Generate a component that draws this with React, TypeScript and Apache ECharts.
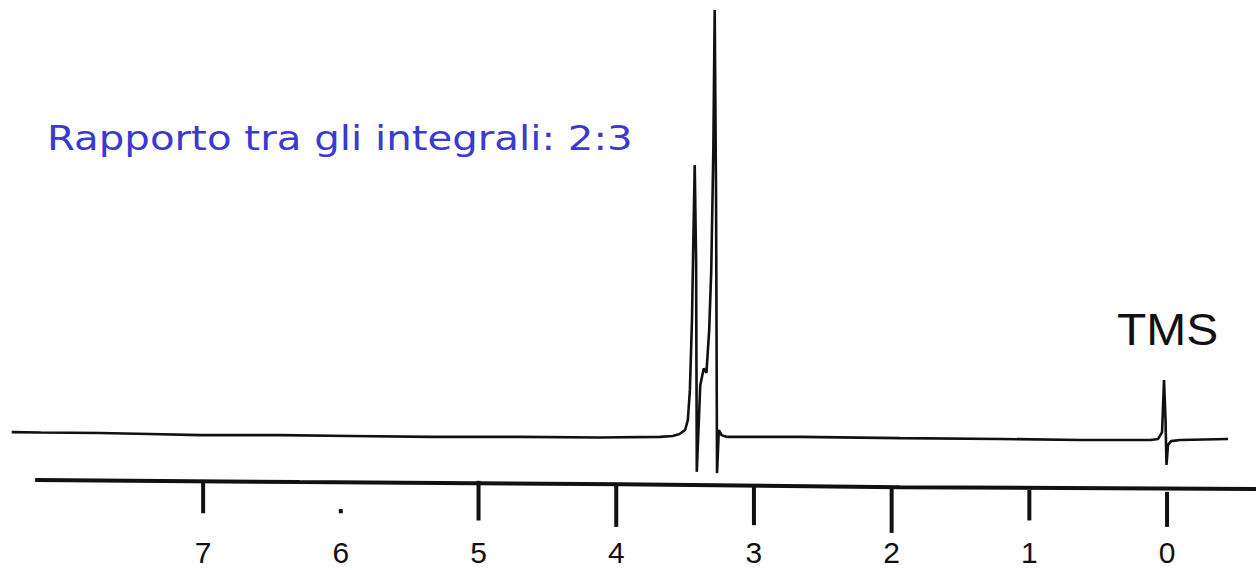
import React, { useEffect, useRef } from "react";
import * as echarts from "echarts";

// Spectrum trace (chemical shift in ppm, relative intensity)
const spectrumPpm = [
  8.39, 8.18, 7.75, 7.39, 7.02, 6.44, 5.93, 5.34, 4.7, 4.12, 3.68, 3.59, 3.54, 3.5, 3.48,
  3.465, 3.45, 3.44, 3.43, 3.42, 3.415, 3.4, 3.39, 3.365, 3.345, 3.325, 3.31, 3.295, 3.285,
  3.275, 3.268, 3.255, 3.235, 3.2, 2.67, 1.94, 1.21, 0.63, 0.12, 0.065, 0.036, 0.022, 0.011,
  0.004, -0.007, -0.029, -0.094, -0.443,
];
const spectrumInt = [
  1.1, 1.0, 0.9, 0.65, 0.4, 0.4, 0.2, 0, 0, -0.15, 0, 0.2, 0.65, 1.6, 3.9,
  11, 27.4, 46, 63.7, 41, -8.2, 3.9, 12, 16, 15, 25, 39, 67, 100,
  55.5, -8.5, 1.6, 0.4, 0, 0, -0.3, -0.5, -0.75, -0.75, -0.5, 1.1, 13.3, 3.9,
  -6.6, -1.9, -1, -0.75, -0.5,
];

// Recorder scale line (ppm, level)
const scalePpm = [8.22, 6.3, 3.97, 1.94, -0.646];
const scaleLevel = [-10.1, -10.6, -11.1, -11.8, -12.2];

// Scale tick marks: ppm, top level, bottom level
const tickPpm = [7, 6, 5, 4, 3, 2, 1, 0];
const tickTop = [-10.1, -16.9, -10.3, -10.8, -11.5, -12.2, -12.4, -12.9];
const tickBottom = [-17.9, -17.9, -19.6, -21.1, -20.7, -22.5, -19.6, -21.1];
const tickLabels = ["7", "6", "5", "4", "3", "2", "1", "0"];

const titleText = "Rapporto tra gli integrali: 2:3";
const peakLabel = "TMS";

export default function App() {
  const ref = useRef<HTMLDivElement>(null);
  useEffect(() => {
    if (!ref.current) return;
    const chart = echarts.init(ref.current, null, { renderer: "svg" });
    const spectrum = spectrumPpm.map((p, i) => [p, spectrumInt[i]]);
    const scale = scalePpm.map((p, i) => [p, scaleLevel[i]]);
    const ticks = tickPpm.map((p, i) => [p, tickTop[i], tickBottom[i]]);
    chart.setOption({
      animation: false,
      backgroundColor: "#ffffff",
      grid: { left: 12, right: 0, top: 10, bottom: 35 },
      xAxis: {
        type: "value",
        inverse: true,
        min: -0.646,
        max: 8.388,
        axisLine: { show: false },
        axisTick: { show: false },
        splitLine: { show: false },
        axisLabel: {
          customValues: tickPpm,
          formatter: (v: number) => tickLabels[tickPpm.indexOf(Math.round(v))] ?? "",
          fontSize: 30,
          lineHeight: 30,
          color: "#111",
          fontFamily: "Liberation Sans",
          margin: 2,
        },
      },
      yAxis: {
        type: "value",
        min: -23,
        max: 100,
        show: false,
      },
      graphic: [
        {
          type: "text",
          left: 47,
          top: 121,
          scaleX: 1.185,
          style: {
            text: titleText,
            fontSize: 34,
            fontFamily: "DejaVu Sans",
            fill: "#3a3ad2",
          },
        },
        {
          type: "text",
          left: 1117,
          top: 308,
          scaleX: 1.09,
          style: {
            text: peakLabel,
            fontSize: 44,
            fontFamily: "Liberation Sans",
            fill: "#111",
          },
        },
      ],
      series: [
        {
          type: "line",
          data: spectrum,
          symbol: "none",
          lineStyle: { color: "#111", width: 2.6 },
          clip: false,
        },
        {
          type: "line",
          data: scale,
          symbol: "none",
          lineStyle: { color: "#111", width: 4 },
        },
        {
          type: "custom",
          data: ticks,
          renderItem: (params: any, api: any) => {
            const p1 = api.coord([api.value(0), api.value(1)]);
            const p2 = api.coord([api.value(0), api.value(2)]);
            return {
              type: "line",
              shape: { x1: p1[0], y1: p1[1], x2: p2[0], y2: p2[1] },
              style: { stroke: "#111", lineWidth: 4 },
            };
          },
        },
      ],
    });
    return () => chart.dispose();
  }, []);
  return <div ref={ref} style={{ width: 1256, height: 570, position: "absolute", left: 0, top: 0 }} />;
}
